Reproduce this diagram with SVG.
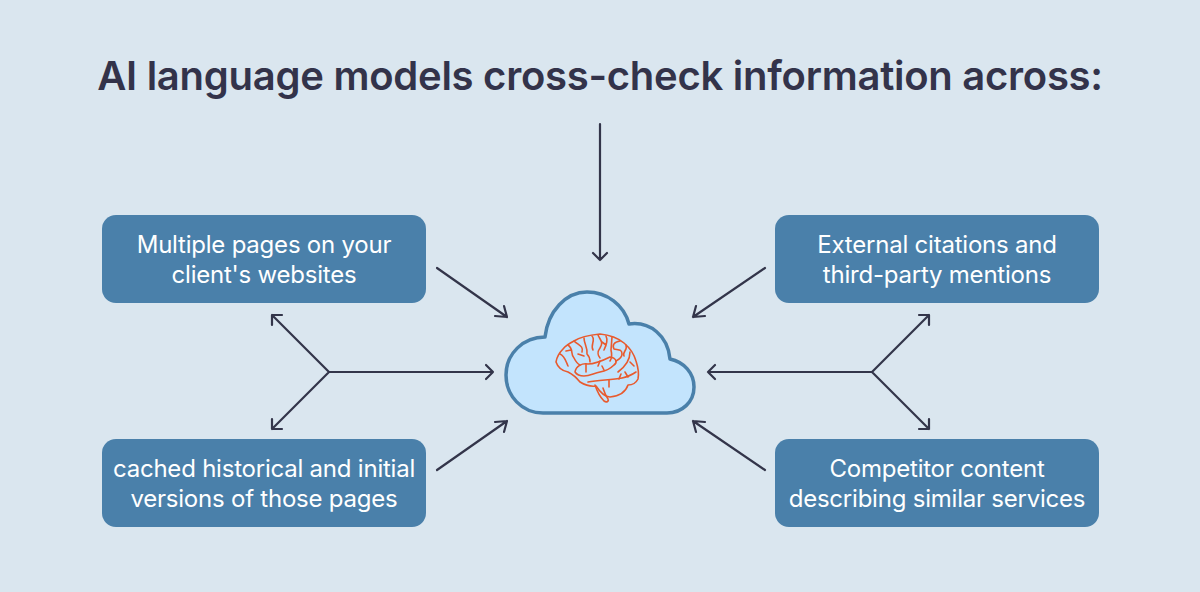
<svg xmlns="http://www.w3.org/2000/svg" width="1200" height="592" viewBox="0 0 1200 592">
<style>
text{font-family:Inter,"Liberation Sans",sans-serif;text-anchor:middle}
.t{font-size:40px;font-weight:600;fill:#33334a;letter-spacing:-0.26px}
.l{font-size:24px;fill:#fff;letter-spacing:-0.22px}
.box{fill:#4a80aa}
.c{fill:none;stroke:#33354a;stroke-width:2.2;stroke-linecap:round;stroke-linejoin:round}
.b{fill:none;stroke:#e85a2e;stroke-width:1.6;stroke-linecap:round;stroke-linejoin:round}
</style>
<rect width="1200" height="592" fill="#dae6ef"/>
<text id="title" class="t" x="600" y="90">AI language models cross-check information across:</text>
<g id="node-tl"><rect class="box" x="102" y="215" width="324" height="88" rx="14"/><text class="l" x="264" y="253">Multiple pages on your</text><text class="l" x="264" y="283">client's websites</text></g>
<g id="node-bl"><rect class="box" x="102" y="439" width="324" height="88" rx="14"/><text class="l" x="264" y="477">cached historical and initial</text><text class="l" x="264" y="507">versions of those pages</text></g>
<g id="node-tr"><rect class="box" x="775" y="215" width="324" height="88" rx="14"/><text class="l" x="937" y="253">External citations and</text><text class="l" x="937" y="283">third-party mentions</text></g>
<g id="node-br"><rect class="box" x="775" y="439" width="324" height="88" rx="14"/><text class="l" x="937" y="477">Competitor content</text><text class="l" x="937" y="507">describing similar services</text></g>
<g id="node-cloud">
<path d="M543 413C522 413 506 396 506 375C506 354 523 337 545 337C548 311 566 292 587 292C607 292 624 305 629 324C650 321 668 336 670 359C684 362 694 373 694 387C694 402 682 413 667 413Z" fill="#c3e4fd" stroke="#4a80aa" stroke-width="3.5" stroke-linejoin="round"/>
<g id="brain" class="b">
<path d="M556 362C557 356 560 352 563 349C566 345 570 343 574 341C580 337 590 335 600 334C610 335 618 338 624 343C630 348 634 354 636 361C638 367 639 374 638 379C636 383 632 385 628 385C626 391 620 396 610 397C604 397 600 392 596 386C590 387 585 385 580 382C576 377 572 374 568 372C563 371 558 368 556 362Z"/>
<path d="M595 385C597 391 600 397 604 401C607 403 609 401 608 399C605 395 604 391 603 388"/>
<path d="M575 372C576 366 582 363 588 364C596 364 604 360 610 357C616 358 618 362 614 365C610 369 606 371 600 372C594 373 590 376 584 376C580 376 577 375 575 372Z"/>
<path d="M588 382C600 380 612 380 622 378C628 377 633 374 636 372"/>
<path d="M609 380V387M586 364V372M598 366L600 361M604 370L602 366M619 379L621 374M628 377L625 372"/>
<path d="M560 354C565 356 566 362 568 366M568 345C574 349 570 354 574 358C576 362 578 364 580 365M574 341C578 345 584 346 582 352M578 354L584 356M584 338C584 344 588 348 587 354C590 357 590 360 590 362M592 336C596 340 590 345 593 350M598 335C600 340 604 342 600 348C597 352 598 356 600 358M606 336C608 340 606 346 604 350M612 337L611 350C612 354 612 358 610 361M620 341C614 342 612 345 614 349C618 350 622 349 622 354C622 358 618 360 616 361M626 345C628 350 622 352 624 356M630 352C630 360 626 366 618 372M630 362L634 366M602 342L606 345M566 351L571 350"/>
</g>
</g>
<g id="connectors" class="c">
<path d="M600 124V260M593 253L600 260L607 253"/>
<path d="M437 268L507 317M495 316L507 317L504 306"/>
<path d="M437 470L507 421M495 422L507 421L504 432"/>
<path d="M765 268L693 317M705 316L693 317L696 306"/>
<path d="M765 470L693 421M705 422L693 421L696 432"/>
<path d="M493 372H329L272 315M272 325V315H282M329 372L272 429M272 419V429H282M486 365L493 372L486 379"/>
<path d="M708 372H872L929 315M929 325V315H919M872 372L929 429M929 419V429H919M715 365L708 372L715 379"/>
</g>
</svg>
